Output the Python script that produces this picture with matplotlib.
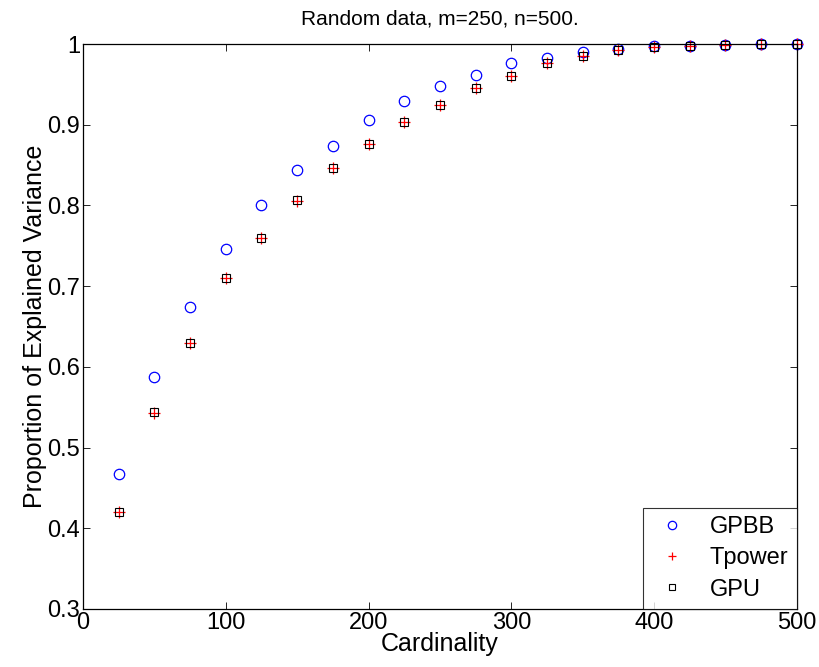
import matplotlib
matplotlib.use('Agg')
import matplotlib.pyplot as plt

plt.rcParams['font.family'] = ['Liberation Sans', 'DejaVu Sans']

# cardinality values and explained variance per method
cardinality = [25, 50, 75, 100, 125, 150, 175, 200, 225, 250,
               275, 300, 325, 350, 375, 400, 425, 450, 475, 500]
gpbb = [0.467, 0.588, 0.674, 0.746, 0.801, 0.844, 0.874, 0.906, 0.929, 0.948,
        0.962, 0.976, 0.983, 0.990, 0.994, 0.997, 0.998, 0.999, 0.9995, 1.0]
tpower = [0.420, 0.543, 0.630, 0.710, 0.760, 0.806, 0.846, 0.876, 0.904, 0.924,
          0.946, 0.960, 0.976, 0.985, 0.992, 0.996, 0.998, 0.999, 0.9995, 1.0]
gpu = [0.420, 0.544, 0.630, 0.710, 0.760, 0.807, 0.846, 0.876, 0.904, 0.924,
       0.946, 0.960, 0.977, 0.985, 0.993, 0.996, 0.998, 0.999, 0.9995, 1.0]

fig = plt.figure(figsize=(8.19, 6.67), dpi=100)
ax = fig.add_axes([0.1013, 0.087, 0.8717, 0.847])

ax.plot(cardinality, gpbb, 'o', color='blue', markerfacecolor='none',
        markersize=7.5, markeredgewidth=0.9, label='GPBB', clip_on=False)
ax.plot(cardinality, tpower, '+', color='red',
        markersize=8, markeredgewidth=0.9, label='Tpower', clip_on=False)
ax.plot(cardinality, gpu, 's', color='black', markerfacecolor='none',
        markersize=6, markeredgewidth=0.8, label='GPU', clip_on=False)

ax.set_xlim(0, 500)
ax.set_ylim(0.3, 1.0)
ax.set_xticks([0, 100, 200, 300, 400, 500])
ax.set_yticks([0.3, 0.4, 0.5, 0.6, 0.7, 0.8, 0.9, 1.0])
ax.set_yticklabels(['0.3', '0.4', '0.5', '0.6', '0.7', '0.8', '0.9', '1'])
ax.tick_params(direction='in', top=True, right=True, labelsize=17,
               length=5, width=0.6, pad=2)
for s in ax.spines.values():
    s.set_linewidth(0.9)

ax.set_xlabel('Cardinality', fontsize=18, labelpad=-1)
ax.set_ylabel('Proportion of Explained Variance', fontsize=18, labelpad=0)
ax.set_title('Random data, m=250, n=500.', fontsize=15, pad=14)

leg = ax.legend(loc='lower right', fontsize=17, frameon=True, fancybox=False,
                borderaxespad=0, handletextpad=0.7, borderpad=0.35,
                labelspacing=0.4, handlelength=1.8, markerscale=0.8)
leg.get_frame().set_edgecolor('black')
leg.get_frame().set_linewidth(0.8)

fig.savefig('out.png', dpi=100)
